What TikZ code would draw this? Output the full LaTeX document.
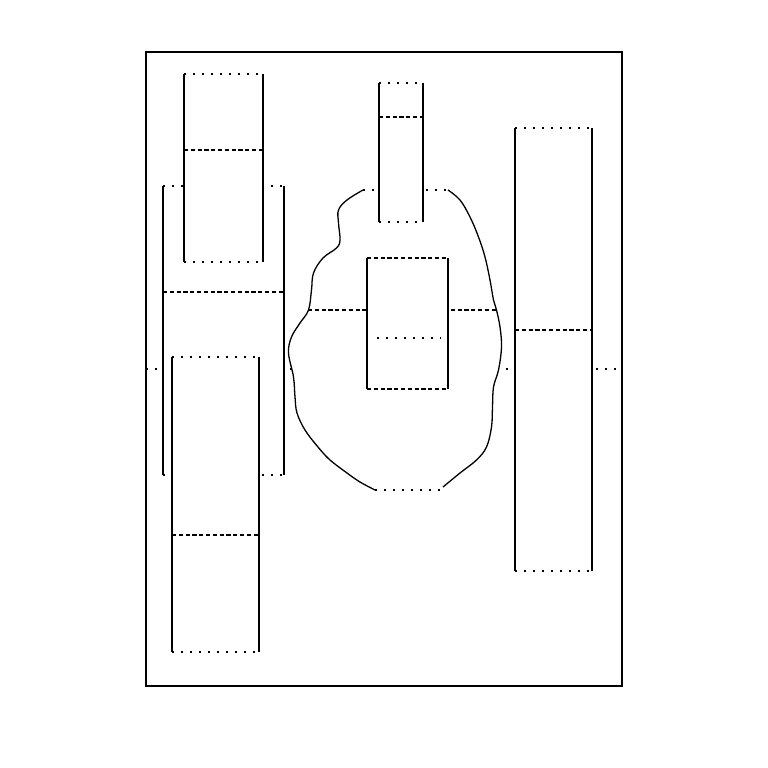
\documentclass[tikz,border=0pt]{standalone}
\usetikzlibrary{calc}

% one slab: x1,y1,x2,y2,y of middle line
\newcommand{\slab}[5]{%
  \fill[white] (#1,#2) rectangle (#3,#4);
  \draw[side]    (#1,#2) -- (#1,#4) (#3,#2) -- (#3,#4);
  \draw[dotline] (#1,#2) -- (#3,#2) (#1,#4) -- (#3,#4);
  \draw[dashline](#1,#5) -- (#3,#5);
}
\newcommand{\blobleft}{(363,190) (347,200) (338.5,210) (338.5,223) (340,240)
  (336.5,248) (323,258) (313.5,273) (311.5,290) (308.5,310) (300,323)
  (291.5,337) (288.5,353) (293.5,377) (295,397) (297,413) (305,430)
  (318,447) (330,460) (347,473) (360,482) (375,490)}
\newcommand{\blobright}{(443,487) (460,473) (476.5,460) (486.5,447)
  (491.5,427) (492.5,407) (493.5,387) (498.5,370) (501.5,347) (500,327)
  (496.5,310) (493.5,300) (490,280) (485,257) (478.5,237) (470,217)
  (460,200) (448,190)}

\begin{document}
\begin{tikzpicture}[
  x=1pt,y=-1pt,
  side/.style    ={line width=1.3pt},
  dotline/.style ={line width=1.5pt,dash pattern=on 1.5pt off 7.5pt},
  dashline/.style={line width=1.3pt,dash pattern=on 4.2pt off 2.6pt},
  blobline/.style={line width=1.3pt,smooth,tension=0.6},
]
\useasboundingbox (0,0) rectangle (768,768);

%% -- frame ------------------------------------------------------------------
\draw[side] (146,52) rectangle (622,686);
\draw[dotline] (146,369) -- (622,369);

%% -- left column ------------------------------------------------------------
\slab{163}{186}{284}{475}{292}
\slab{184}{74}{263}{262}{150}
\slab{172}{357}{259}{652}{535}

%% -- blob -------------------------------------------------------------------
\coordinate (bltop) at (363,190);
\coordinate (brtop) at (448,190);
\coordinate (blbot) at (375,490);
\coordinate (brbot) at (443,490);
\fill[white] plot[smooth,tension=0.6] coordinates {\blobleft}
  -- plot[smooth,tension=0.6] coordinates {\blobright} -- cycle;
\draw[blobline] plot coordinates {\blobleft};
\draw[blobline] plot coordinates {\blobright};
\draw[dotline] (bltop) -- (brtop);
\draw[dotline] (blbot) -- (brbot);
\draw[dashline] (308,310) -- (496,310);

%% -- middle boxes -----------------------------------------------------------
\slab{379}{83}{423}{222}{117}
\fill[white] (367,258) rectangle (448,389);
\draw[side] (367,258) -- (367,389) (448,258) -- (448,389);
\draw[dashline] (367,258) -- (448,258) (367,389) -- (448,389);
\draw[dotline] (377,338) -- (441,338);

%% -- right column -----------------------------------------------------------
\slab{515}{128}{592}{571}{330}

\end{tikzpicture}
\end{document}
